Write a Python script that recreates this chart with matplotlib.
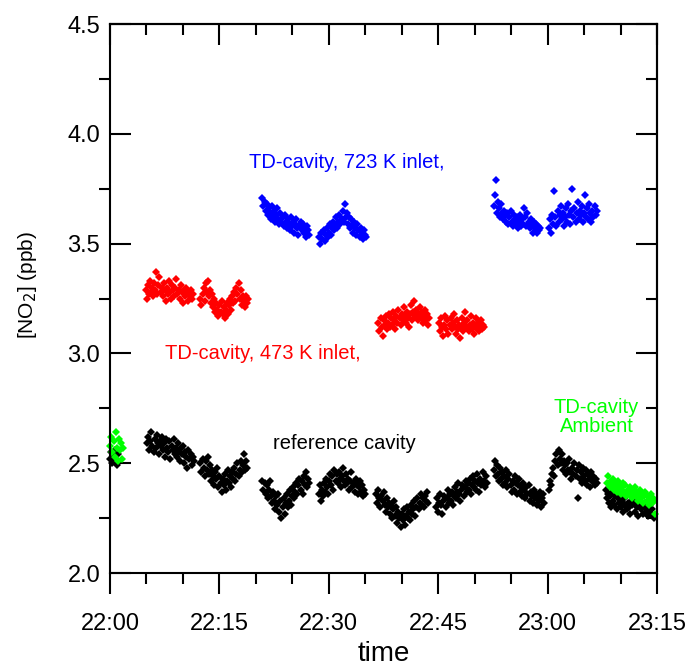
import numpy as np
import matplotlib.pyplot as plt
from matplotlib.ticker import MultipleLocator

plt.rcParams['font.family'] = ['Liberation Sans', 'DejaVu Sans']

# x in minutes after 22:00; every segment sampled every dt minutes from its start
tick_min = [0, 15, 30, 45, 60, 75]
tick_lab = ['22:00', '22:15', '22:30', '22:45', '23:00', '23:15']
dt = 0.145

# reference cavity (black)
ref_start = [0.05, 5.1, 12.4, 20.9, 28.6, 36.5, 44.7, 52.6, 60.2, 68.0]
ref_0 = [2.52, 2.55, 2.50, 2.53, 2.56, 2.51, 2.49, 2.54]
ref_1 = [2.59, 2.62, 2.56, 2.60, 2.64, 2.58, 2.55, 2.61, 2.57, 2.63, 2.59, 2.54,
         2.60, 2.58, 2.62, 2.56, 2.59, 2.53, 2.61, 2.57, 2.55, 2.60, 2.52, 2.58,
         2.56, 2.61, 2.54, 2.57, 2.53, 2.59, 2.55, 2.51, 2.57, 2.54, 2.58, 2.50,
         2.55, 2.53, 2.48, 2.56, 2.52, 2.54, 2.49, 2.53, 2.51]
ref_2 = [2.50, 2.46, 2.52, 2.48, 2.44, 2.51, 2.47, 2.53, 2.45, 2.49, 2.42, 2.47,
         2.44, 2.40, 2.46, 2.43, 2.48, 2.39, 2.44, 2.41, 2.37, 2.43, 2.40, 2.45,
         2.38, 2.42, 2.47, 2.41, 2.44, 2.39, 2.46, 2.43, 2.48, 2.42, 2.45, 2.50,
         2.44, 2.47, 2.51, 2.46, 2.49, 2.54, 2.47, 2.51, 2.48]
ref_3 = [2.42, 2.38, 2.41, 2.36, 2.40, 2.34, 2.38, 2.42, 2.35, 2.32, 2.37, 2.33,
         2.29, 2.35, 2.31, 2.36, 2.28, 2.33, 2.25, 2.30, 2.34, 2.27, 2.32, 2.36,
         2.30, 2.33, 2.38, 2.31, 2.35, 2.39, 2.34, 2.37, 2.41, 2.36, 2.40, 2.43,
         2.38, 2.42, 2.36, 2.44, 2.40, 2.46, 2.39, 2.43, 2.41]
ref_4 = [2.36, 2.40, 2.33, 2.38, 2.35, 2.41, 2.37, 2.43, 2.39, 2.36, 2.42, 2.45,
         2.40, 2.44, 2.38, 2.47, 2.42, 2.45, 2.41, 2.46, 2.43, 2.39, 2.44, 2.48,
         2.42, 2.40, 2.45, 2.41, 2.43, 2.38, 2.42, 2.46, 2.39, 2.41, 2.37, 2.43,
         2.40, 2.36, 2.39, 2.42, 2.37, 2.40, 2.35, 2.38, 2.36]
ref_5 = [2.36, 2.32, 2.38, 2.34, 2.30, 2.35, 2.33, 2.37, 2.31, 2.28, 2.34, 2.30,
         2.32, 2.27, 2.31, 2.25, 2.29, 2.33, 2.26, 2.30, 2.23, 2.28, 2.25, 2.21,
         2.27, 2.24, 2.29, 2.22, 2.26, 2.30, 2.25, 2.28, 2.24, 2.31, 2.27, 2.29,
         2.33, 2.26, 2.30, 2.34, 2.29, 2.32, 2.36, 2.31, 2.34, 2.30, 2.35, 2.33,
         2.37, 2.32]
ref_6 = [2.30, 2.34, 2.28, 2.32, 2.36, 2.31, 2.27, 2.33, 2.35, 2.30, 2.34, 2.38,
         2.32, 2.36, 2.33, 2.37, 2.31, 2.35, 2.39, 2.34, 2.37, 2.41, 2.36, 2.33,
         2.38, 2.40, 2.35, 2.39, 2.42, 2.37, 2.41, 2.38, 2.43, 2.36, 2.40, 2.44,
         2.39, 2.42, 2.38, 2.45, 2.41, 2.37, 2.43, 2.40, 2.46, 2.42, 2.39, 2.44,
         2.41]
ref_7 = [2.47, 2.51, 2.44, 2.49, 2.45, 2.42, 2.48, 2.43, 2.46, 2.40, 2.44, 2.41,
         2.47, 2.39, 2.43, 2.45, 2.40, 2.37, 2.42, 2.38, 2.44, 2.41, 2.36, 2.40,
         2.43, 2.37, 2.39, 2.35, 2.41, 2.38, 2.34, 2.39, 2.36, 2.40, 2.33, 2.37,
         2.35, 2.32, 2.38, 2.34, 2.36, 2.31, 2.35, 2.33, 2.37, 2.30, 2.34, 2.36,
         2.32]
ref_8 = [2.38, 2.42, 2.40, 2.45, 2.48, 2.44, 2.51, 2.54, 2.49, 2.56, 2.52, 2.50,
         2.54, 2.47, 2.51, 2.49, 2.45, 2.50, 2.47, 2.52, 2.46, 2.43, 2.48, 2.45,
         2.50, 2.44, 2.47, 2.34, 2.49, 2.43, 2.46, 2.41, 2.48, 2.44, 2.42, 2.47,
         2.40, 2.45, 2.43, 2.39, 2.46, 2.42, 2.44, 2.40, 2.43, 2.41]
ref_9 = [2.38, 2.34, 2.36, 2.32, 2.35, 2.30, 2.37, 2.33, 2.31, 2.35, 2.29, 2.34,
         2.32, 2.36, 2.30, 2.33, 2.28, 2.34, 2.31, 2.35, 2.29, 2.32, 2.30, 2.27,
         2.33, 2.31, 2.34, 2.28, 2.32, 2.30, 2.26, 2.31, 2.33, 2.29, 2.31, 2.27,
         2.30, 2.32, 2.28, 2.30, 2.26, 2.29, 2.31, 2.27, 2.29, 2.25]
ref_vals = [ref_0, ref_1, ref_2, ref_3, ref_4, ref_5, ref_6, ref_7, ref_8, ref_9]

# TD-cavity, 473 K inlet (red)
red_start = [4.9, 12.4, 36.8, 45.1]
red_1 = [3.29, 3.25, 3.31, 3.27, 3.33, 3.28, 3.30, 3.26, 3.32, 3.29, 3.37, 3.27,
         3.31, 3.35, 3.28, 3.30, 3.26, 3.32, 3.29, 3.24, 3.30, 3.27, 3.33, 3.28,
         3.25, 3.31, 3.29, 3.26, 3.30, 3.34, 3.27, 3.29, 3.25, 3.31, 3.28, 3.23,
         3.29, 3.26, 3.30, 3.27, 3.24, 3.28, 3.26, 3.29, 3.25, 3.27]
red_2 = [3.25, 3.22, 3.27, 3.30, 3.24, 3.32, 3.28, 3.33, 3.26, 3.29, 3.23, 3.27,
         3.21, 3.25, 3.19, 3.23, 3.20, 3.17, 3.22, 3.19, 3.24, 3.18, 3.21, 3.16,
         3.20, 3.23, 3.18, 3.22, 3.25, 3.20, 3.26, 3.23, 3.28, 3.24, 3.30, 3.27,
         3.32, 3.25, 3.29, 3.22, 3.26, 3.24, 3.21, 3.26, 3.23, 3.25]
red_3 = [3.14, 3.10, 3.16, 3.12, 3.08, 3.15, 3.13, 3.17, 3.11, 3.14, 3.18, 3.12,
         3.16, 3.13, 3.19, 3.15, 3.11, 3.17, 3.14, 3.20, 3.16, 3.13, 3.18, 3.15,
         3.21, 3.17, 3.14, 3.19, 3.16, 3.12, 3.18, 3.22, 3.15, 3.19, 3.24, 3.17,
         3.20, 3.15, 3.18, 3.21, 3.16, 3.19, 3.14, 3.17, 3.20, 3.15, 3.18, 3.13,
         3.16]
red_4 = [3.14, 3.10, 3.16, 3.12, 3.08, 3.13, 3.17, 3.11, 3.15, 3.09, 3.13, 3.16,
         3.11, 3.14, 3.18, 3.12, 3.09, 3.15, 3.11, 3.13, 3.07, 3.12, 3.16, 3.10,
         3.14, 3.19, 3.12, 3.15, 3.10, 3.13, 3.17, 3.11, 3.14, 3.09, 3.13, 3.16,
         3.11, 3.14, 3.10, 3.12, 3.15, 3.11, 3.13, 3.12]
red_vals = [red_1, red_2, red_3, red_4]

# TD-cavity, 723 K inlet (blue)
blue_start = [20.9, 28.7, 52.6, 60.2]
blue_1 = [3.71, 3.67, 3.69, 3.65, 3.68, 3.63, 3.66, 3.64, 3.61, 3.67, 3.62, 3.65,
          3.60, 3.63, 3.66, 3.61, 3.59, 3.64, 3.60, 3.62, 3.58, 3.63, 3.60, 3.57,
          3.61, 3.59, 3.56, 3.62, 3.58, 3.60, 3.55, 3.59, 3.61, 3.57, 3.54, 3.58,
          3.60, 3.56, 3.59, 3.55, 3.57, 3.53, 3.58, 3.56, 3.54]
blue_2 = [3.53, 3.50, 3.55, 3.52, 3.56, 3.51, 3.54, 3.57, 3.53, 3.55, 3.59, 3.54,
          3.57, 3.60, 3.56, 3.58, 3.62, 3.57, 3.60, 3.63, 3.59, 3.61, 3.65, 3.60,
          3.68, 3.62, 3.64, 3.59, 3.62, 3.57, 3.61, 3.58, 3.55, 3.60, 3.57, 3.54,
          3.59, 3.56, 3.53, 3.57, 3.55, 3.52, 3.56, 3.54, 3.53]
blue_3 = [3.67, 3.72, 3.79, 3.64, 3.69, 3.66, 3.62, 3.68, 3.64, 3.61, 3.65, 3.63,
          3.60, 3.64, 3.59, 3.62, 3.65, 3.60, 3.58, 3.63, 3.61, 3.59, 3.62, 3.57,
          3.60, 3.63, 3.58, 3.61, 3.59, 3.66, 3.62, 3.58, 3.64, 3.60, 3.57, 3.61,
          3.58, 3.55, 3.60, 3.57, 3.59, 3.55, 3.58, 3.56, 3.57]
blue_4 = [3.57, 3.61, 3.55, 3.63, 3.59, 3.74, 3.62, 3.58, 3.65, 3.60, 3.63, 3.67,
          3.61, 3.64, 3.58, 3.62, 3.66, 3.60, 3.68, 3.63, 3.59, 3.65, 3.75, 3.62,
          3.66, 3.60, 3.64, 3.69, 3.61, 3.65, 3.63, 3.67, 3.60, 3.64, 3.72, 3.62,
          3.66, 3.61, 3.68, 3.64, 3.60, 3.65, 3.62, 3.67, 3.63, 3.65]
blue_vals = [blue_1, blue_2, blue_3, blue_4]

# TD-cavity ambient (green)
green_start = [0.05, 68.2]
green_1 = [2.58, 2.62, 2.55, 2.60, 2.53, 2.64, 2.57, 2.51, 2.61, 2.56, 2.59, 2.52, 2.57]
green_2 = [2.41, 2.44, 2.39, 2.42, 2.40, 2.43, 2.38, 2.41, 2.39, 2.37, 2.42, 2.38,
           2.40, 2.36, 2.39, 2.41, 2.37, 2.40, 2.35, 2.38, 2.36, 2.39, 2.37, 2.34,
           2.38, 2.36, 2.39, 2.35, 2.37, 2.33, 2.36, 2.38, 2.34, 2.36, 2.32, 2.35,
           2.37, 2.33, 2.35, 2.31, 2.34, 2.36, 2.32, 2.34, 2.33, 2.27]
green_vals = [green_1, green_2]


def segs(starts, vals):
    x = np.concatenate([s + dt*np.arange(len(v)) for s, v in zip(starts, vals)])
    y = np.concatenate([np.array(v) for v in vals])
    return x, y


fig = plt.figure(figsize=(6.94, 6.68), dpi=100)
ax = fig.add_axes([0.1585, 0.1422, 0.7882, 0.8218])

for starts, vals, col in [(ref_start, ref_vals, 'black'),
                          (red_start, red_vals, '#ff0000'),
                          (blue_start, blue_vals, '#0000ff'),
                          (green_start, green_vals, '#00ff00')]:
    x, y = segs(starts, vals)
    ax.plot(x, y, 'D', color=col, ms=4.1, mew=0, clip_on=False)

ax.set_xlim(0, 75)
ax.set_ylim(2.0, 4.5)
ax.set_xticks(tick_min)
ax.set_xticklabels(tick_lab)
ax.xaxis.set_minor_locator(MultipleLocator(5))
ax.yaxis.set_major_locator(MultipleLocator(0.5))
ax.yaxis.set_minor_locator(MultipleLocator(0.25))
ax.yaxis.set_major_formatter(plt.FormatStrFormatter('%.1f'))

for sp in ax.spines.values():
    sp.set_linewidth(1.5)

ax.tick_params(axis='x', which='major', direction='out', length=15, width=1.5,
               labelsize=17, pad=14)
ax.tick_params(axis='x', which='minor', direction='out', length=8, width=1.5)
ax.tick_params(axis='y', which='major', direction='in', length=15, width=1.5,
               labelsize=17, pad=7)
ax.tick_params(axis='y', which='minor', direction='out', length=8, width=1.5)

# top and right axes carry inward ticks only
top = ax.secondary_xaxis('top')
top.set_xticks(tick_min)
top.xaxis.set_minor_locator(MultipleLocator(5))
top.tick_params(which='major', direction='in', length=15, width=1.5, labeltop=False)
top.tick_params(which='minor', direction='in', length=8, width=1.5)
top.spines['top'].set_linewidth(1.5)

right = ax.secondary_yaxis('right')
right.yaxis.set_major_locator(MultipleLocator(0.5))
right.yaxis.set_minor_locator(MultipleLocator(0.25))
right.tick_params(which='major', direction='in', length=15, width=1.5, labelright=False)
right.tick_params(which='minor', direction='in', length=8, width=1.5)
right.spines['right'].set_linewidth(1.5)

ax.set_xlabel('time', fontsize=20, labelpad=4)
ax.set_ylabel(r'[NO$_2$] (ppb)', fontsize=15)
ax.yaxis.set_label_coords(-0.13, 0.525)

ax.text(32.5, 3.87, 'TD-cavity, 723 K inlet,', color='#0000ff', fontsize=14.5, ha='center', va='center')
ax.text(20.9, 3.0, 'TD-cavity, 473 K inlet,', color='#ff0000', fontsize=14.5, ha='center', va='center')
ax.text(32.1, 2.59, 'reference cavity', color='black', fontsize=14.5, ha='center', va='center')
ax.text(66.7, 2.71, 'TD-cavity\nAmbient', color='#00ff00', fontsize=14.5, ha='center', va='center',
        linespacing=0.95)

plt.savefig('out.png', dpi=100)
